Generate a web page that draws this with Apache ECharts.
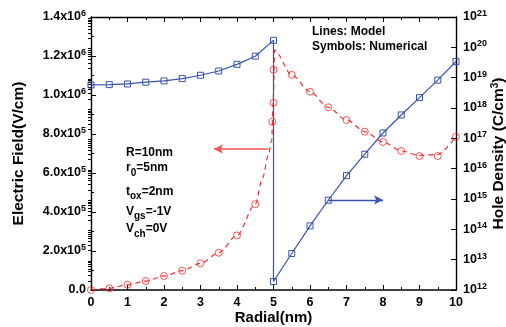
<!DOCTYPE html>
<html>
<head>
<meta charset="utf-8">
<script src="https://cdn.jsdelivr.net/npm/echarts@6/dist/echarts.min.js"></script>
<style>
html,body{margin:0;padding:0;background:#fff;}
#chart{width:506px;height:327px;}
</style>
</head>
<body>
<div id="chart"></div>
<script>
// ---- Data ----
// Hole density (right log axis), blue squares + solid model line
const hdX = [0, 0.5, 1, 1.5, 2, 2.5, 3, 3.5, 4, 4.5, 5, 5, 5.5, 6, 6.5, 7, 7.5, 8, 8.5, 9, 9.5, 10];
const hdY = [5.75e18, 5.9e18, 6.2e18, 7.1e18, 7.8e18, 9.3e18, 1.2e19, 1.66e19, 2.75e19, 5.1e19, 1.7e20,
             1.9e12, 1.6e13, 1.3e14, 9.1e14, 5.9e15, 3.0e16, 1.5e17, 5.9e17, 2.2e18, 8.3e18, 3.4e19];

// Electric field (left axis), numerical symbols (red circles)
const efSymX = [0, 0.5, 1, 1.5, 2, 2.5, 3, 3.5, 4, 4.5, 4.97, 5, 5, 5.5, 6, 6.5, 7, 7.5, 8, 8.5, 9, 9.5, 10];
const efSymY = [0, 8.7e3, 2.7e4, 4.6e4, 7.2e4, 9.9e4, 1.37e5, 1.91e5, 2.80e5, 4.40e5, 8.63e5, 9.6e5, 1.13e6,
                1.103e6, 1.017e6, 9.37e5, 8.72e5, 8.12e5, 7.59e5, 7.13e5, 6.87e5, 6.87e5, 7.86e5];

// Electric field model (red dashed line)
const efModX = [0, 0.5, 1, 1.5, 2, 2.5, 3, 3.5, 4, 4.5, 4.7, 4.86, 4.95, 4.99, 5.03, 5.5, 6, 6.5, 7, 7.5, 8, 8.5, 9, 9.5, 10];
const efModY = [0, 8.7e3, 2.7e4, 4.6e4, 7.2e4, 9.9e4, 1.37e5, 1.91e5, 2.80e5, 4.40e5, 5.74e5, 6.92e5, 7.69e5, 9.6e5,
                1.23e6, 1.103e6, 1.017e6, 9.37e5, 8.72e5, 8.12e5, 7.59e5, 7.13e5, 6.90e5, 6.95e5, 7.9e5];

// Arrows (data coordinates)
const efArrowFrom = [4.86, 7.23e5], efArrowTo = [3.37, 7.23e5];
const hdArrowFrom = [6.5, 9.3e14], hdArrowTo = [8.0, 9.3e14];

// Tick labels
const efTickValues = [0, 2e5, 4e5, 6e5, 8e5, 1.0e6, 1.2e6, 1.4e6];
const efTickLabels = ['0.0', '2.0x10^5', '4.0x10^5', '6.0x10^5', '8.0x10^5', '1.0x10^6', '1.2x10^6', '1.4x10^6'];
const hdTickExps = [12, 13, 14, 15, 16, 17, 18, 19, 20, 21];
const hdTickLabels = ['10^12', '10^13', '10^14', '10^15', '10^16', '10^17', '10^18', '10^19', '10^20', '10^21'];

// ---- Chart ----
const FONT = '"Liberation Sans", Arial, Helvetica, sans-serif';
const BLUE = '#3853ad';
const RED = '#ff2b2b';

function toRich(s) {
  const p = s.split('^');
  return p.length > 1 ? '{b|' + p[0] + '}{sup|' + p[1] + '}' : '{b|' + s + '}';
}
const tickRich = {
  b: { fontSize: 12.5, fontWeight: 'bold', fontFamily: FONT, color: '#000', lineHeight: 13 },
  sup: { fontSize: 9, fontWeight: 'bold', fontFamily: FONT, color: '#000', lineHeight: 9, padding: [0, 0, 7, 0] }
};
const zip = (a, b) => a.map((v, i) => [v, b[i]]);

// minor log ticks (2..9 in each decade), in exponent space
const logMinor = [];
for (let e = 12; e < 21; e++) for (let k = 2; k <= 9; k++) logMinor.push(e + Math.log10(k));

const chart = echarts.init(document.getElementById('chart'), null, { renderer: 'canvas' });
const option = {
  animation: false,
  backgroundColor: '#fff',
  grid: { left: 91, right: 50, top: 17, bottom: 37, containLabel: false, outerBoundsMode: 'none' },
  xAxis: [
    {
      type: 'value', min: 0, max: 10, interval: 1, position: 'bottom',
      name: 'Radial(nm)', nameLocation: 'middle', nameGap: 20, nameMoveOverlap: false,
      nameTextStyle: { fontSize: 15, fontWeight: 'bold', fontFamily: FONT, color: '#000' },
      axisLine: { onZero: false, lineStyle: { color: '#000', width: 1.6 } },
      axisTick: { inside: true, length: 5, lineStyle: { color: '#000', width: 1 } },
      minorTick: { show: true, splitNumber: 2, length: 3, lineStyle: { color: '#000', width: 1 } },
      splitLine: { show: false }, minorSplitLine: { show: false },
      axisLabel: { margin: 6, fontSize: 12.5, fontWeight: 'bold', fontFamily: FONT, color: '#000' }
    },
    {
      type: 'value', min: 0, max: 10, interval: 1, position: 'top',
      axisLine: { onZero: false, lineStyle: { color: '#000', width: 1.4 } },
      axisTick: { inside: true, length: 5, lineStyle: { color: '#000', width: 1 } },
      minorTick: { show: true, splitNumber: 2, length: 3, lineStyle: { color: '#000', width: 1 } },
      splitLine: { show: false }, minorSplitLine: { show: false },
      axisLabel: { show: false }
    }
  ],
  yAxis: [
    {
      type: 'value', min: 0, max: 1.4e6, interval: 2e5, position: 'left',
      name: 'Electric Field(V/cm)', nameLocation: 'middle', nameGap: 64, nameMoveOverlap: false,
      nameTextStyle: { fontSize: 15.5, fontWeight: 'bold', fontFamily: FONT, color: '#000' },
      axisLine: { onZero: false, lineStyle: { color: '#000', width: 1.4 } },
      axisTick: { inside: true, length: 5, lineStyle: { color: '#000', width: 1 } },
      minorTick: { show: true, splitNumber: 2, length: 3, lineStyle: { color: '#000', width: 1 } },
      splitLine: { show: false }, minorSplitLine: { show: false },
      axisLabel: {
        margin: 5,
        formatter: function (v) {
          const i = efTickValues.findIndex(t => Math.abs(t - v) < 1);
          return i >= 0 ? toRich(efTickLabels[i]) : '';
        },
        rich: tickRich
      }
    },
    {
      type: 'log', logBase: 10, min: 1e12, max: 1e21, splitNumber: 9, position: 'right',
      name: '{b|Hole Density (C/cm}{s|3}{b|)}', nameLocation: 'middle', nameGap: 35, nameMoveOverlap: false,
      nameTextStyle: {
        fontSize: 15.5, fontWeight: 'bold', fontFamily: FONT, color: '#000',
        rich: {
          b: { fontSize: 15.5, fontWeight: 'bold', fontFamily: FONT, color: '#000', lineHeight: 16 },
          s: { fontSize: 10, fontWeight: 'bold', fontFamily: FONT, color: '#000', lineHeight: 10, padding: [0, 0, 8, 0] }
        }
      },
      axisLine: { onZero: false, lineStyle: { color: '#000', width: 1.4 } },
      axisTick: { inside: true, length: 5, lineStyle: { color: '#000', width: 1 } },
      splitLine: { show: false },
      axisLabel: {
        margin: 7,
        formatter: function (v) {
          const e = Math.round(Math.log10(v));
          const i = hdTickExps.indexOf(e);
          return i >= 0 ? toRich(hdTickLabels[i]) : '';
        },
        rich: tickRich
      }
    },
    {
      type: 'value', min: 12, max: 21, position: 'right',
      axisLine: { show: false },
      axisTick: { show: true, inside: true, length: 3, customValues: logMinor, lineStyle: { color: '#000', width: 1 } },
      axisLabel: { show: false },
      splitLine: { show: false }
    }
  ],
  series: [
    {
      name: 'Hole Density', type: 'line', xAxisIndex: 0, yAxisIndex: 1,
      data: zip(hdX, hdY),
      symbol: 'rect', symbolSize: 6, showAllSymbol: true,
      lineStyle: { color: BLUE, width: 1.2 },
      itemStyle: { color: 'rgba(255,255,255,0)', borderColor: BLUE, borderWidth: 1 },
      z: 3,
      markLine: {
        silent: true, symbol: ['none', 'arrow'], symbolSize: [7, 9],
        label: { show: false },
        lineStyle: { color: BLUE, width: 1.3, type: 'solid' },
        data: [[{ coord: hdArrowFrom }, { coord: hdArrowTo }]]
      }
    },
    {
      name: 'Electric Field (model)', type: 'line', xAxisIndex: 0, yAxisIndex: 0,
      data: zip(efModX, efModY),
      showSymbol: false, smooth: 0.3, smoothMonotone: 'x',
      lineStyle: { color: RED, width: 1.2, type: [5, 4] },
      z: 2,
      markLine: {
        silent: true, symbol: ['none', 'arrow'], symbolSize: [7, 9],
        label: { show: false },
        lineStyle: { color: '#f25252', width: 1.6, type: 'solid' },
        data: [[{ coord: efArrowFrom }, { coord: efArrowTo }]]
      }
    },
    {
      name: 'Electric Field (numerical)', type: 'scatter', xAxisIndex: 0, yAxisIndex: 0,
      data: zip(efSymX, efSymY),
      symbol: 'circle', symbolSize: 7,
      itemStyle: { color: 'rgba(255,255,255,0)', borderColor: RED, borderWidth: 1 },
      z: 4
    }
  ],
  graphic: [
    { type: 'text', x: 312, y: 32, style: { text: 'Lines: Model', font: 'bold 12px ' + FONT, fill: '#000', verticalAlign: 'middle' } },
    { type: 'text', x: 312, y: 47, style: { text: 'Symbols: Numerical', font: 'bold 12px ' + FONT, fill: '#000', verticalAlign: 'middle' } },
    { type: 'text', x: 126, y: 147, style: annot('R=10nm') },
    { type: 'text', x: 126, y: 162, style: annot('r{s|0}=5nm') },
    { type: 'text', x: 126, y: 185.5, style: annot('t{s|ox}=2nm') },
    { type: 'text', x: 126, y: 205.5, style: annot('V{s|gs}=-1V') },
    { type: 'text', x: 126, y: 223, style: annot('V{s|ch}=0V') }
  ]
};
function annot(txt) {
  const t = txt.replace(/([^{}|]+)(?![^{]*})/g, '{b|$1}');
  return {
    text: t, verticalAlign: 'top', fill: '#000',
    rich: {
      b: { fontSize: 12, fontWeight: 'bold', fontFamily: FONT, color: '#000', lineHeight: 14, verticalAlign: 'top' },
      s: { fontSize: 10, fontWeight: 'bold', fontFamily: FONT, color: '#000', lineHeight: 10, padding: [8, 0, 0, 0] }
    }
  };
}
chart.setOption(option);
</script>
</body>
</html>
